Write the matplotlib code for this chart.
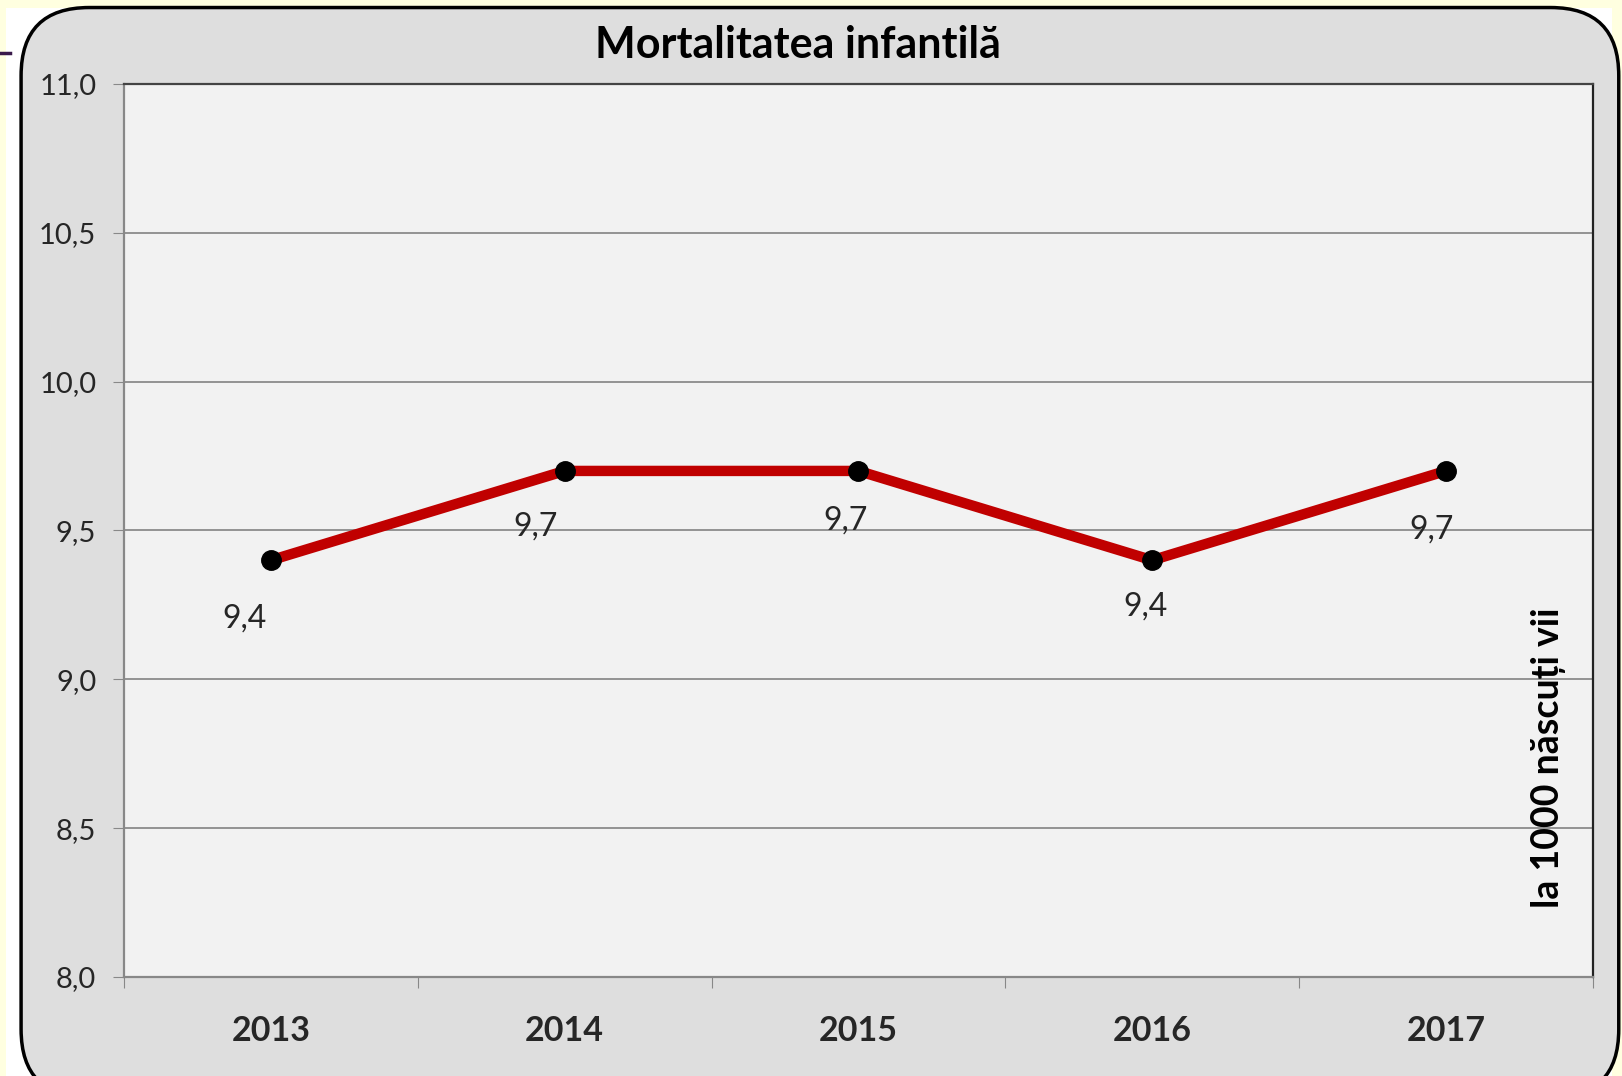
import matplotlib.pyplot as plt
from matplotlib.patches import FancyBboxPatch, Rectangle

# data
years = ['2013', '2014', '2015', '2016', '2017']
values = [9.4, 9.7, 9.7, 9.4, 9.7]
labels = ['9,4', '9,7', '9,7', '9,4', '9,7']
yticks = [8.0, 8.5, 9.0, 9.5, 10.0, 10.5, 11.0]
# label offsets (points) relative to each marker
offs = [(-19, -42), (-21, -40), (-9, -36), (-5, -33), (-10, -42)]

plt.rcParams['font.family'] = ['Lato', 'DejaVu Sans']

fig = plt.figure(figsize=(16.22, 10.76), dpi=100)
fig.patch.set_facecolor('#ffffe0')

# white strip + rounded chart frame
fig.patches.append(Rectangle((0.004, 0), 0.99, 0.993, transform=fig.transFigure,
                             facecolor='white', edgecolor='none', zorder=0))
fig.patches.append(FancyBboxPatch((0.013, -0.02), 0.985, 1.013, transform=fig.transFigure,
                                  boxstyle='round,pad=0,rounding_size=0.042',
                                  mutation_aspect=1622 / 1076,
                                  facecolor='#dedede', edgecolor='black', linewidth=2.5, zorder=0.5))
fig.add_artist(plt.Line2D([0, 0.006], [0.951, 0.951], color='#3a1a4a', lw=2.5))

ax = fig.add_axes([0.0765, 0.092, 0.9055, 0.83])
ax.set_zorder(2)
ax.set_facecolor('#f2f2f2')

x = range(len(years))
ax.plot(x, values, color='#c00000', lw=7.5, zorder=3, solid_capstyle='butt')
ax.plot(x, values, 'o', color='black', ms=14, zorder=4)
for i, (v, lab) in enumerate(zip(values, labels)):
    ax.annotate(lab, (i, v), xytext=offs[i], textcoords='offset points',
                ha='center', va='center', fontsize=23, color='#262626')

ax.set_xlim(-0.5, 4.5)
ax.set_ylim(8.0, 11.0)
ax.set_yticks(yticks)
ax.set_yticklabels([f'{t:.1f}'.replace('.', ',') for t in yticks], fontsize=21, color='#262626')
ax.set_xticks([i - 0.5 for i in range(len(years) + 1)])
ax.set_xticklabels([])
ax.set_xticks(list(x), minor=True)
ax.set_xticklabels(years, minor=True, fontsize=24.5, fontweight='bold', color='#262626')
ax.tick_params(axis='x', which='major', length=8, color='#888888', direction='out')
ax.tick_params(axis='x', which='minor', length=0, pad=27)
ax.tick_params(axis='y', length=8, color='#888888', direction='out', pad=12)
ax.grid(axis='y', color='#8c8c8c', lw=1.3)
ax.set_axisbelow(True)

ax.spines['left'].set_color('#888888')
ax.spines['bottom'].set_color('#888888')
ax.spines['top'].set_color('#444444')
ax.spines['right'].set_color('#222222')
for s in ax.spines.values():
    s.set_linewidth(1.6)

ax.text(0.970, 0.245, 'la 1000 născuți vii', transform=ax.transAxes, rotation=90,
        ha='center', va='center', fontsize=27, fontweight='bold', color='black')

fig.text(0.492, 0.958, 'Mortalitatea infantilă', ha='center', va='center',
         fontsize=31, fontweight='bold', color='black')

fig.savefig('out.png', dpi=100, facecolor=fig.get_facecolor())
